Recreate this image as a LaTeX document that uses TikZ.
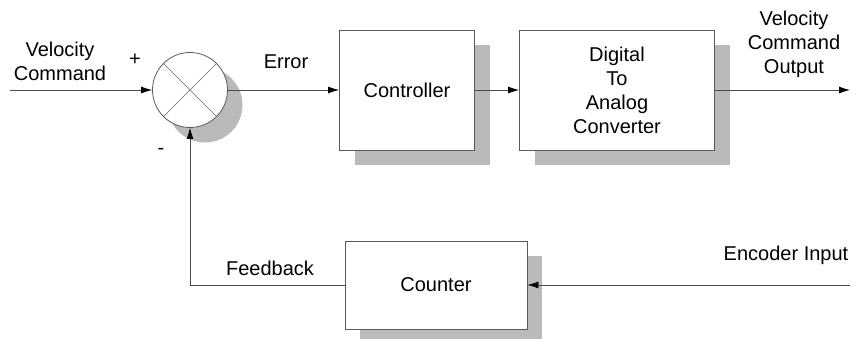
\documentclass[tikz,border=0pt]{standalone}
\usepackage{fontspec}
\setmainfont{Liberation Sans}
\usetikzlibrary{arrows.meta,shadows}

\begin{document}
\begin{tikzpicture}[x=1pt,y=-1pt,
    font=\fontsize{20}{24}\selectfont,
    shade/.style={drop shadow={shadow xshift=15pt,shadow yshift=-15pt,fill=black!27,opacity=1}},
    block/.style={draw=black!65,fill=white,line width=0.8pt,inner sep=0pt,align=center,shade},
    sig/.style={-{Latex[length=11pt,width=7pt,black]},line width=0.8pt,draw=black!70}]
                      \useasboundingbox (0,0) rectangle (861,339);
                      \node[circle,block,minimum size=75pt](sum)at(190,90){};
                      \draw[black!60,line width=0.6pt](sum.north west)--(sum.south east) (sum.north east)--(sum.south west);
                      \node[block,minimum width=135pt,minimum height=120pt](ctrl)at(407,90){Controller};
                      \node[block,minimum width=195pt,minimum height=120pt](dac)at(617,90){Digital\\To\\Analog\\Converter};
                      \node[block,minimum width=182pt,minimum height=88pt](cnt)at(436,285){Counter};
                      \coordinate (in) at (10,90);
                      \coordinate (out) at (850,90);
                      \coordinate (enc) at (850,285);
                      \draw[sig](in)--(sum.west);
                      \draw[sig](sum.east)--(ctrl.west);
                      \draw[sig](ctrl.east)--(dac.west);
                      \draw[sig](dac.east)--(out);
                      \draw[sig](enc)--(cnt.east);
                      \draw[sig](cnt.west)-|(sum.south);
                      \node[align=center](vcmd)at(60,61){Velocity\\Command};
                      \node(plus)at(135,60){+};
                      \node(minus)at(161,151){-};
                      \node(err)at(286,62){Error};
                      \node[align=center](vout)at(794,44){Velocity\\Command\\Output};
                      \node(fb)at(270,268){Feedback};
                      \node(encin)at(786,255){Encoder Input};
                  \end{tikzpicture}
\end{document}
